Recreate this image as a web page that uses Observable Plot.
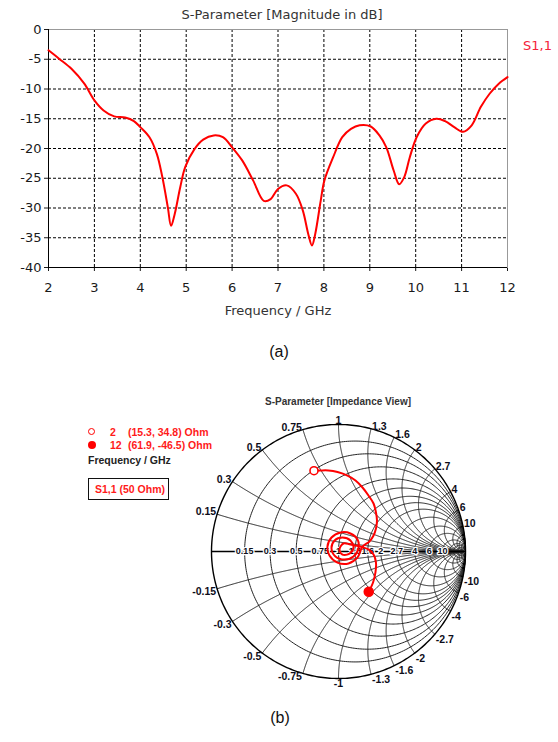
<!DOCTYPE html>
<html><head><meta charset="utf-8">
<script src="https://cdn.jsdelivr.net/npm/d3@7"></script>
<script src="https://cdn.jsdelivr.net/npm/@observablehq/plot@0.6"></script>
<style>
body{margin:0;background:#fff;}
#root{position:relative;width:558px;height:742px;overflow:hidden;background:#fff;}
.t{position:absolute;white-space:nowrap;line-height:1;}
svg{position:absolute;}
</style></head><body><div id="root"></div>
<script>
// ---- (a) S11 magnitude ----
const freqGHz = [2.0,2.23,2.5,2.78,3.0,3.2,3.43,3.67,3.86,4.0,4.2,4.36,4.48,4.6,4.67,4.75,4.87,4.98,5.18,5.37,5.6,5.8,6.0,6.22,6.46,6.69,6.84,7.0,7.19,7.39,7.54,7.66,7.74,7.81,7.93,8.01,8.2,8.4,8.59,8.78,9.02,9.21,9.36,9.52,9.64,9.75,9.87,10.02,10.22,10.45,10.64,10.84,11.03,11.22,11.42,11.61,11.81,12.0];
const s11dB = [-3.5,-4.9,-6.6,-9.1,-11.9,-13.6,-14.6,-14.8,-15.4,-16.4,-18.1,-20.9,-24.8,-29.9,-33.0,-31.0,-26.5,-23.1,-20.1,-18.5,-17.8,-18.1,-19.8,-22.0,-25.4,-28.8,-28.5,-26.8,-26.2,-27.6,-30.4,-34.4,-36.3,-34.4,-28.8,-25.4,-21.5,-18.1,-16.7,-16.1,-16.3,-17.8,-19.8,-23.7,-26.0,-24.8,-21.5,-18.1,-15.8,-15.0,-15.4,-16.4,-17.2,-16.1,-13.0,-10.8,-9.1,-8.0];
const xTicks = [2,3,4,5,6,7,8,9,10,11,12];
const yTicks = [0,-5,-10,-15,-20,-25,-30,-35,-40];

// ---- (b) Smith chart (reflection coefficient) ----
const gammaRe = [-0.193,-0.142,-0.079,-0.008,0.071,0.134,0.189,0.236,0.276,0.295,0.303,0.295,0.276,0.244,0.189,0.150,0.079,-0.008,-0.071,-0.087,-0.055,0.016,0.094,0.150,0.157,0.118,0.047,-0.024,-0.055,-0.031,0.031,0.094,0.118,0.087,0.031,0.008,0.039,0.094,0.173,0.236,0.276,0.295,0.291,0.272,0.238];
const gammaIm = [0.636,0.638,0.638,0.626,0.598,0.559,0.504,0.441,0.378,0.307,0.244,0.181,0.126,0.079,0.039,-0.047,-0.094,-0.087,-0.031,0.039,0.110,0.150,0.142,0.094,0.024,-0.039,-0.063,-0.039,0.024,0.087,0.110,0.087,0.031,-0.016,-0.024,0.016,0.063,0.055,0.039,0.016,-0.024,-0.087,-0.165,-0.244,-0.317];
const rLabels = [0.15,0.3,0.5,0.75,1,1.3,1.6,2,2.7,4,6,10];
const xLabels = [0.15,0.3,0.5,0.75,1,1.3,1.6,2,2.7,4,6,10,-0.15,-0.3,-0.5,-0.75,-1,-1.3,-1.6,-2,-2.7,-4,-6,-10];
const rExtra = [15,20,30,50];
const xExtra = [15,20,30,50,-15,-20,-30,-50];
const markerFreq = ["2","12"];
const markerText = ["(15.3, 34.8) Ohm","(61.9, -46.5) Ohm"];

const root = document.getElementById("root");
function txt(s, x, y, style, anchor="middle") {
  const d = document.createElement("div");
  d.className = "t"; d.textContent = s;
  Object.assign(d.style, style);
  d.style.left = x + "px"; d.style.top = y + "px";
  const tx = anchor === "middle" ? "-50%" : anchor === "end" ? "-100%" : "0";
  d.style.transform = `translate(${tx},-50%)`;
  root.appendChild(d);
  return d;
}

// ---------- top chart ----------
const lineData = freqGHz.map((f, i) => ({f, db: s11dB[i]}));
const topPlot = Plot.plot({
  width: 558, height: 300,
  marginLeft: 48, marginRight: 51, marginTop: 29, marginBottom: 33,
  style: {fontFamily: "DejaVu Sans, sans-serif", fontSize: "13px", color: "#1a1a1a", background: "transparent", overflow: "visible"},
  x: {domain: [2, 12], ticks: xTicks, tickFormat: d => String(d), tickSize: 4, tickPadding: 11, label: null},
  y: {domain: [-40, 0], ticks: yTicks, tickFormat: d => String(d), tickSize: 4, tickPadding: 3, label: null},
  marks: [
    Plot.ruleX(xTicks.slice(1, -1), {stroke: "#000", strokeDasharray: "3,2", strokeWidth: 1}),
    Plot.ruleY(yTicks.slice(1, -1), {stroke: "#000", strokeDasharray: "3,2", strokeWidth: 1}),
    Plot.frame({stroke: "#999"}),
    Plot.ruleX([2], {stroke: "#000"}),
    Plot.ruleY([-40], {stroke: "#000"}),
    Plot.line(lineData, {x: "f", y: "db", stroke: "#ff0000", strokeWidth: 2, curve: "catmull-rom"})
  ]
});
topPlot.style.left = "0px"; topPlot.style.top = "0px";
root.appendChild(topPlot);

const fTop = {fontFamily: "DejaVu Sans, sans-serif", fontSize: "13px", color: "#333"};
txt("S-Parameter [Magnitude in dB]", 282, 14, fTop);
txt("Frequency / GHz", 278, 310, fTop);
txt("S1,1", 523, 45, {fontFamily: "DejaVu Sans, sans-serif", fontSize: "13px", color: "#f5223a"}, "start");
txt("(a)", 279, 352, {fontFamily: "Liberation Sans, Arial, sans-serif", fontSize: "16px", color: "#111"});
txt("(b)", 280, 718, {fontFamily: "Liberation Sans, Arial, sans-serif", fontSize: "16px", color: "#111"});

// ---------- Smith chart ----------
const gridPts = [];
for (const r of rLabels.concat(rExtra)) {
  const c = r / (1 + r), rad = 1 / (1 + r);
  for (let i = 0; i <= 360; i++) {
    const t = i * Math.PI / 180;
    gridPts.push({g: "r" + r, re: c + rad * Math.cos(t), im: rad * Math.sin(t)});
  }
}
for (const x of xLabels.concat(xExtra)) {
  for (let i = 0; i <= 400; i++) {
    const r = Math.tan(i / 400 * Math.PI / 2 * 0.998);
    const d = (r + 1) ** 2 + x * x;
    gridPts.push({g: "x" + x, re: (r * r + x * x - 1) / d, im: 2 * x / d});
  }
}
const outer = d3.range(0, 361).map(i => ({re: Math.cos(i * Math.PI / 180), im: Math.sin(i * Math.PI / 180)}));
const trace = gammaRe.map((re, i) => ({re, im: gammaIm[i]}));
const rLab = rLabels.map(r => ({re: (r - 1) / (r + 1), im: 0, t: String(r)}));
const xLab = xLabels.map(x => ({re: (x * x - 1) / (x * x + 1), im: 2 * x / (x * x + 1), t: String(x)}));
const labFont = {fontSize: 10.5, fontWeight: "bold", fill: "#0d0d1a"};
function xGroup(filter, textAnchor, lineAnchor, dx, dy) {
  return Plot.text(xLab.filter(filter), {x: "re", y: "im", text: "t", textAnchor, lineAnchor, dx, dy, ...labFont});
}
const smith = Plot.plot({
  width: 558, height: 330,
  marginLeft: 211, marginRight: 93, marginTop: 44, marginBottom: 32,
  style: {fontFamily: "Liberation Sans, Arial, sans-serif", background: "transparent", overflow: "visible"},
  x: {domain: [-1, 1], axis: null},
  y: {domain: [-1, 1], axis: null},
  marks: [
    Plot.line(gridPts, {x: "re", y: "im", z: "g", stroke: "#222", strokeWidth: 1}),
    Plot.line(outer, {x: "re", y: "im", stroke: "#000", strokeWidth: 1.4}),
    Plot.ruleY([0], {x1: -1, x2: 1, stroke: "#000", strokeWidth: 1.3}),
    Plot.text(rLab, {x: "re", y: "im", text: "t", stroke: "white", strokeWidth: 2.5, ...labFont, fontSize: 9}),
    xGroup(d => d.im > 0 && d.re < -0.1, "end", "bottom", -1, 1),
    xGroup(d => d.im > 0 && Math.abs(d.re) <= 0.1, "middle", "bottom", 0, -1),
    xGroup(d => d.im > 0 && d.re > 0.1, "start", "bottom", 1, 1),
    xGroup(d => d.im < 0 && d.re < -0.1, "end", "top", -1, -1),
    xGroup(d => d.im < 0 && Math.abs(d.re) <= 0.1, "middle", "top", 0, 1),
    xGroup(d => d.im < 0 && d.re > 0.1, "start", "top", 1, 1),
    Plot.line(trace, {x: "re", y: "im", stroke: "#ff0000", strokeWidth: 2, curve: "catmull-rom"}),
    Plot.dot([trace[0]], {x: "re", y: "im", r: 4, stroke: "#ff0000", strokeWidth: 1.6, fill: "white"}),
    Plot.dot([trace[trace.length - 1]], {x: "re", y: "im", r: 4.5, fill: "#ff0000", stroke: "#ff0000"})
  ]
});
smith.style.left = "0px"; smith.style.top = "380px";
root.appendChild(smith);

const fB = {fontFamily: "Liberation Sans, Arial, sans-serif", fontSize: "10.5px", fontWeight: "bold"};
txt("S-Parameter [Impedance View]", 338, 402, {...fB, fontSize: "10px", color: "#333"});
// legend markers
const m1 = document.createElement("div");
Object.assign(m1.style, {position: "absolute", left: "88px", top: "428px", width: "5px", height: "5px", border: "1.6px solid #ff0000", borderRadius: "50%"});
root.appendChild(m1);
const m2 = document.createElement("div");
Object.assign(m2.style, {position: "absolute", left: "88px", top: "441px", width: "8px", height: "8px", background: "#ff0000", borderRadius: "50%"});
root.appendChild(m2);
txt(markerFreq[0], 110, 432, {...fB, color: "#ff1a1a"}, "start");
txt(markerText[0], 128, 432, {...fB, color: "#ff1a1a"}, "start");
txt(markerFreq[1], 110, 445, {...fB, color: "#ff1a1a"}, "start");
txt(markerText[1], 128, 445, {...fB, color: "#ff1a1a"}, "start");
txt("Frequency / GHz", 88, 460, {...fB, color: "#222"}, "start");
const box = document.createElement("div");
Object.assign(box.style, {position: "absolute", left: "88px", top: "478px", width: "79px", height: "20px", border: "1.5px solid #111", boxSizing: "content-box"});
root.appendChild(box);
txt("S1,1 (50 Ohm)", 95, 489, {...fB, color: "#ff1a1a"}, "start");
</script>
</body></html>
